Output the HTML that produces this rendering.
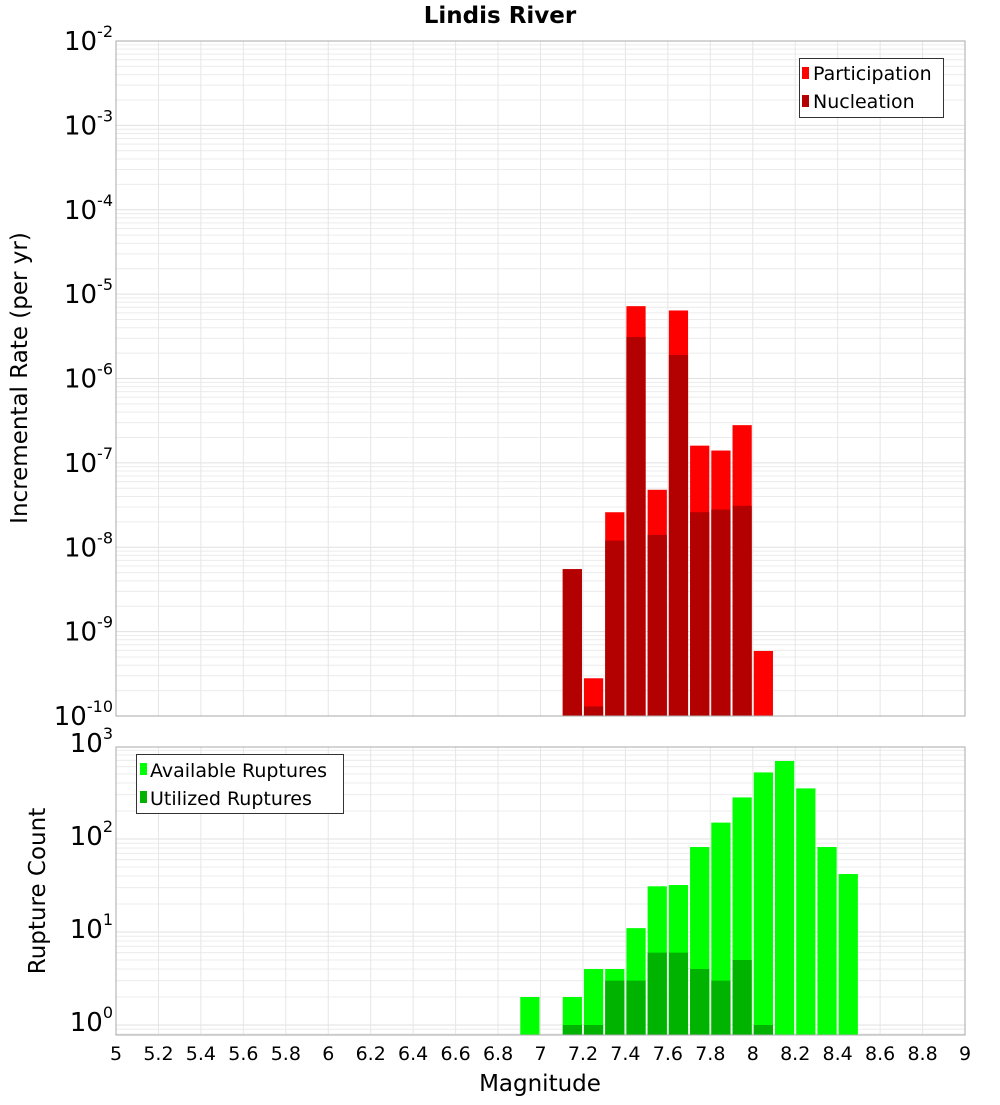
<!DOCTYPE html>
<html><head><meta charset="utf-8"><style>
body{margin:0;background:#fff;width:1000px;height:1100px;overflow:hidden}
svg{font-family:"DejaVu Sans","Liberation Sans",sans-serif}
</style></head><body>
<svg id="c" width="1000" height="1100" xmlns="http://www.w3.org/2000/svg"></svg>
<script>
const binStarts=[6.9,7.0,7.1,7.2,7.3,7.4,7.5,7.6,7.7,7.8,7.9,8.0,8.1,8.2,8.3,8.4];
const participation=[0,0,5.5e-9,2.8e-10,2.6e-8,7.2e-6,4.8e-8,6.4e-6,1.6e-7,1.4e-7,2.8e-7,5.9e-10,0,0,0,0];
const nucleation=[0,0,5.5e-9,1.3e-10,1.2e-8,3.1e-6,1.4e-8,1.9e-6,2.6e-8,2.8e-8,3.1e-8,0,0,0,0,0];
const available=[2,0,2,4,4,11,31,32,82,150,280,520,690,350,82,42];
const utilized=[0,0,1,1,3,3,6,6,4,3,5,1,0,0,0,0];
const xTicks=[5,5.2,5.4,5.6,5.8,6,6.2,6.4,6.6,6.8,7,7.2,7.4,7.6,7.8,8,8.2,8.4,8.6,8.8,9];
const topExps=[-2,-3,-4,-5,-6,-7,-8,-9,-10];
const botExps=[3,2,1,0];

const NS="http://www.w3.org/2000/svg";
const svg=document.getElementById('c');
function el(t,a,p){const e=document.createElementNS(NS,t);for(const k in a)e.setAttribute(k,a[k]);(p||svg).appendChild(e);return e;}
const L=116,R=965;
const x=m=>L+(m-5)*(R-L)/4;
const T1=41,B1=716;
const y1=v=>T1+(-2-Math.log10(v))*(B1-T1)/8;
const T2=747,B2=1035;
const y2=v=>1025-Math.log10(v)*93;

function grid(top,bot,yf,lo,hi){
  const g=el('g',{});
  
  
  for(let e=lo;e<=hi;e++)for(let k=1;k<10;k++){const v=k*Math.pow(10,e);const yy=yf(v);if(yy<top||yy>bot)continue;
    el('line',{x1:L,x2:R,y1:yy,y2:yy,stroke:k==1?'#e0e0e0':'#ececec','stroke-width':1},g);}
  for(let m=5;m<=9.001;m+=0.2){el('line',{x1:x(m),x2:x(m),y1:top,y2:bot,stroke:'#e6e6e6','stroke-width':1},g);}
}
grid(T1,B1,y1,-10,-3);
grid(T2,B2,y2,-1,3);
const bw=(R-L)/40;
const gt=el('g',{});


binStarts.forEach((m,i)=>{
  [[participation[i],'#ff0000','participation-bar'],[nucleation[i],'#b30000','nucleation-bar']].forEach(([v,c,n])=>{
    if(v<=0)return;const yy=y1(v);
    const r=el('rect',{x:x(m)+1,y:yy,width:bw-2,height:B1-yy,fill:c},gt);
    
    
  });
});
const gb=el('g',{});


binStarts.forEach((m,i)=>{
  [[available[i],'#00ff00','available-bar'],[utilized[i],'#00b300','utilized-bar']].forEach(([v,c,n])=>{
    if(v<=0)return;const yy=y2(v);
    const r=el('rect',{x:x(m)+1,y:yy,width:bw-2,height:B2-yy,fill:c},gb);
    
    
  });
});
el('rect',{x:L,y:T1,width:R-L,height:B1-T1,fill:'none',stroke:'#aaa'});
el('rect',{x:L,y:T2,width:R-L,height:B2-T2,fill:'none',stroke:'#aaa'});
function ylab(e,yy,name){
  const t=el('text',{x:113,y:yy+9,'text-anchor':'end','font-size':26,fill:'#000'});
  
  
  const a=el('tspan',{},t);a.textContent='10';
  const b=el('tspan',{dy:-13,'font-size':16},t);b.textContent=String(e);
}
topExps.forEach(e=>ylab(e,y1(Math.pow(10,e)),'y-tick-label'));
botExps.forEach(e=>ylab(e,y2(Math.pow(10,e))-3,'y2-tick-label'));
xTicks.forEach(m=>{
  const t=el('text',{x:x(m),y:1060,'text-anchor':'middle','font-size':19});
  t.textContent=String(m);
  
  
});
</script>
<svg width="1000" height="1100" style="position:absolute;left:0;top:0" xmlns="http://www.w3.org/2000/svg">
<text x="500" y="23" text-anchor="middle" font-size="23" font-weight="bold" font-family="DejaVu Sans,sans-serif">Lindis River</text>
<text transform="translate(27,378) rotate(-90)" text-anchor="middle" font-size="23" font-family="DejaVu Sans,sans-serif">Incremental Rate (per yr)</text>
<text transform="translate(45,891) rotate(-90)" text-anchor="middle" font-size="23" font-family="DejaVu Sans,sans-serif">Rupture Count</text>
<text x="540" y="1091" text-anchor="middle" font-size="23" font-family="DejaVu Sans,sans-serif">Magnitude</text>
<g font-family="DejaVu Sans,sans-serif" font-size="19">
<rect x="799.5" y="58.5" width="144" height="59" fill="#fff" stroke="#333"/>
<rect x="802" y="67" width="7" height="12" fill="#ff0000"/>
<text x="813" y="80">Participation</text>
<rect x="802" y="95" width="7" height="12" fill="#b30000"/>
<text x="813" y="108">Nucleation</text>
</g>
<g font-family="DejaVu Sans,sans-serif" font-size="19">
<rect x="136.5" y="754.5" width="207" height="59" fill="#fff" stroke="#333"/>
<rect x="140" y="763" width="7" height="12" fill="#00ff00"/>
<text x="150" y="777">Available Ruptures</text>
<rect x="140" y="791" width="7" height="12" fill="#00b300"/>
<text x="150" y="805">Utilized Ruptures</text>
</g>
</svg>
</body></html>
